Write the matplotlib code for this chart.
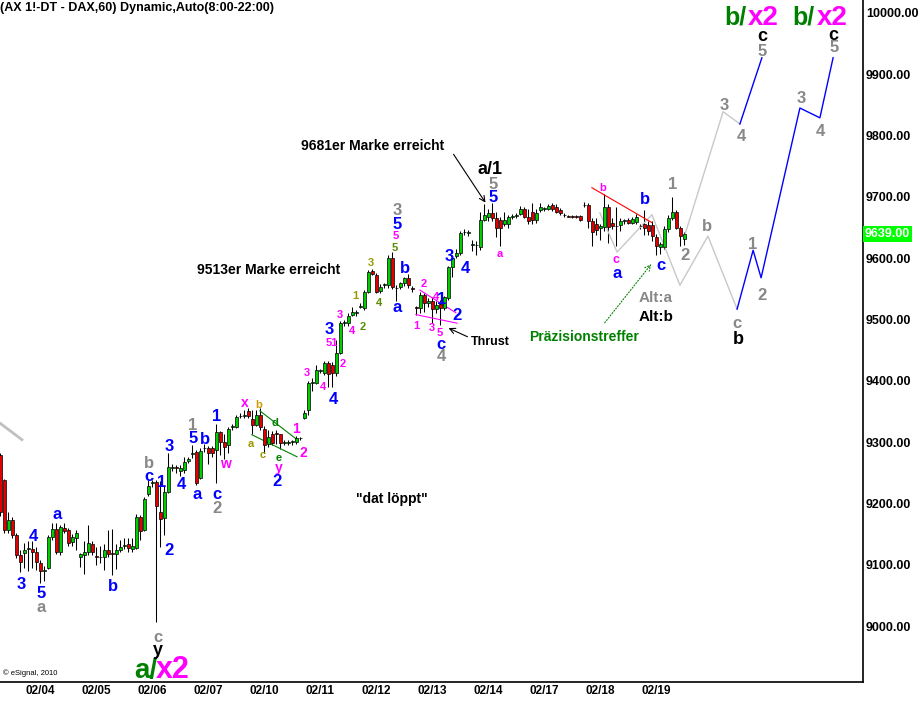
import numpy as np
import matplotlib
matplotlib.use('Agg')
import matplotlib.pyplot as plt

plt.rcParams['font.family'] = ['Liberation Sans', 'DejaVu Sans']
plt.rcParams['font.weight'] = 'bold'

# hourly candles, 02/03 (partial) .. 02/19
opens = [9279, 9238, 9157, 9173, 9149, 9116, 9119, 9126, 9126, 9121,
         9103, 9090, 9095, 9145, 9159, 9121, 9160, 9157, 9137, 9144,
         9113, 9116, 9121, 9134, 9114, 9112, 9112, 9124, 9119, 9118,
         9124, 9131, 9134, 9126, 9127, 9178, 9157, 9216, 9233, 9235,
         9186, 9177, 9219, 9258, 9259, 9253, 9254, 9269, 9281, 9284,
         9242, 9290, 9291, 9290, 9287, 9316, 9300, 9295, 9324, 9324,
         9342, 9342, 9350, 9338, 9328, 9345, 9321, 9297, 9313, 9314,
         9313, 9299, 9299, 9300, 9300, 9306, 9340, 9353, 9397, 9397,
         9416, 9413, 9429, 9425, 9412, 9446, 9494, 9494, 9507, 9511,
         9521, 9519, 9545, 9579, 9573, 9546, 9556, 9556, 9600, 9552,
         9553, 9559, 9568, 9551, 9520, 9519, 9540, 9527, 9530, 9517,
         9525, 9519, 9535, 9585, 9604, 9608, 9642, 9641, 9622, 9622,
         9618, 9663, 9667, 9673, 9665, 9662, 9655, 9655, 9667, 9669,
         9672, 9680, 9668, 9675, 9662, 9678, 9680, 9681, 9686, 9683,
         9679, 9671, 9669, 9668, 9668, 9669, 9686, 9686, 9660, 9655,
         9649, 9651, 9684, 9657, 9652, 9654, 9660, 9662, 9658, 9659,
         9652, 9655, 9654, 9654, 9634, 9619, 9619, 9648, 9666, 9676,
         9650, 9632]
highs = [9282, 9240, 9186, 9178, 9152, 9124, 9136, 9139, 9139, 9129,
         9108, 9098, 9149, 9168, 9168, 9165, 9168, 9160, 9150, 9157,
         9119, 9139, 9165, 9139, 9129, 9131, 9134, 9157, 9159, 9134,
         9141, 9144, 9144, 9144, 9183, 9181, 9211, 9239, 9239, 9239,
         9236, 9230, 9282, 9265, 9263, 9262, 9275, 9276, 9295, 9287,
         9290, 9297, 9293, 9293, 9330, 9318, 9313, 9325, 9329, 9345,
         9347, 9352, 9355, 9352, 9352, 9355, 9326, 9320, 9318, 9320,
         9313, 9303, 9303, 9304, 9310, 9309, 9352, 9400, 9404, 9425,
         9420, 9432, 9433, 9430, 9466, 9498, 9500, 9510, 9520, 9515,
         9527, 9548, 9580, 9582, 9576, 9558, 9560, 9605, 9610, 9556,
         9562, 9570, 9575, 9555, 9522, 9545, 9543, 9535, 9537, 9530,
         9532, 9538, 9588, 9605, 9615, 9645, 9647, 9646, 9630, 9628,
         9675, 9688, 9680, 9690, 9675, 9668, 9675, 9670, 9672, 9674,
         9685, 9683, 9680, 9690, 9680, 9690, 9684, 9688, 9690, 9688,
         9682, 9674, 9671, 9670, 9670, 9671, 9691, 9690, 9665, 9665,
         9655, 9705, 9688, 9665, 9683, 9665, 9664, 9665, 9668, 9672,
         9656, 9678, 9660, 9660, 9640, 9626, 9653, 9670, 9700, 9678,
         9652, 9642]
lows = [9180, 9152, 9152, 9144, 9111, 9088, 9095, 9090, 9095, 9092,
        9070, 9074, 9093, 9141, 9118, 9116, 9152, 9131, 9131, 9124,
        9096, 9085, 9116, 9116, 9100, 9103, 9092, 9113, 9083, 9093,
        9121, 9126, 9121, 9121, 9126, 9141, 9155, 9212, 9226, 9006,
        9129, 9149, 9217, 9253, 9250, 9245, 9250, 9266, 9274, 9230,
        9240, 9284, 9265, 9275, 9233, 9279, 9272, 9282, 9320, 9323,
        9340, 9340, 9339, 9313, 9326, 9320, 9282, 9292, 9295, 9297,
        9288, 9295, 9296, 9296, 9297, 9303, 9337, 9345, 9383, 9395,
        9412, 9410, 9390, 9390, 9408, 9444, 9490, 9490, 9505, 9506,
        9518, 9516, 9543, 9572, 9543, 9543, 9552, 9552, 9550, 9530,
        9550, 9555, 9552, 9545, 9508, 9510, 9512, 9520, 9495, 9510,
        9491, 9516, 9532, 9570, 9600, 9605, 9638, 9636, 9612, 9605,
        9614, 9660, 9660, 9660, 9635, 9620, 9652, 9650, 9664, 9666,
        9670, 9665, 9656, 9656, 9658, 9675, 9677, 9679, 9677, 9673,
        9671, 9668, 9667, 9666, 9666, 9661, 9684, 9650, 9620, 9638,
        9630, 9645, 9625, 9648, 9620, 9645, 9656, 9655, 9655, 9656,
        9648, 9638, 9638, 9628, 9605, 9607, 9615, 9643, 9662, 9648,
        9620, 9622]
closes = [9186, 9157, 9173, 9149, 9116, 9105, 9124, 9128, 9121, 9105,
          9090, 9092, 9145, 9159, 9121, 9162, 9155, 9136, 9145, 9152,
          9117, 9121, 9136, 9121, 9113, 9113, 9124, 9118, 9118, 9124,
          9129, 9132, 9127, 9131, 9178, 9155, 9207, 9229, 9234, 9196,
          9174, 9219, 9259, 9260, 9258, 9258, 9267, 9272, 9283, 9234,
          9286, 9291, 9282, 9282, 9316, 9300, 9292, 9321, 9326, 9341,
          9343, 9345, 9342, 9328, 9345, 9325, 9295, 9308, 9298, 9313,
          9298, 9300, 9300, 9301, 9306, 9307, 9348, 9397, 9398, 9418,
          9417, 9429, 9411, 9412, 9445, 9494, 9496, 9506, 9512, 9512,
          9522, 9545, 9578, 9575, 9545, 9553, 9557, 9600, 9553, 9551,
          9559, 9568, 9556, 9550, 9519, 9540, 9527, 9530, 9517, 9524,
          9518, 9536, 9585, 9600, 9608, 9641, 9643, 9642, 9623, 9621,
          9663, 9670, 9673, 9665, 9650, 9650, 9662, 9667, 9669, 9671,
          9680, 9668, 9660, 9662, 9673, 9683, 9681, 9685, 9680, 9676,
          9673, 9670, 9668, 9667, 9667, 9663, 9687, 9660, 9643, 9646,
          9652, 9684, 9651, 9653, 9653, 9660, 9662, 9658, 9664, 9667,
          9653, 9650, 9644, 9636, 9620, 9623, 9648, 9666, 9676, 9650,
          9636, 9639]

day_labels = ['02/04', '02/05', '02/06', '02/07', '02/10', '02/11',
              '02/12', '02/13', '02/14', '02/17', '02/18', '02/19']
day_start = [10, 24, 38, 52, 66, 80, 94, 108, 122, 136, 150, 164]
price_ticks = [9000, 9100, 9200, 9300, 9400, 9500, 9600, 9700, 9800, 9900, 10000]
last_price = 9639

# projected paths (bar index, price)
gray_path1_x = [149.9, 154.2, 162.9, 169.9, 176.9, 184.2]
gray_path1_y = [9674, 9610, 9671, 9556, 9636, 9517]
blue_path1_x = [184.2, 188.2, 190.2, 199.9, 204.9, 208.2]
blue_path1_y = [9517, 9613, 9568, 9845, 9829, 9927]
gray_path2_x = [170.9, 180.7, 184.9]
gray_path2_y = [9633, 9839, 9819]
blue_path2_x = [184.9, 190.4]
blue_path2_y = [9819, 9927]
old_gray_x = [-0.1, 5.4]
old_gray_y = [9331, 9304]
# trend lines
tri_up_x, tri_up_y = [64.9, 74.2], [9351, 9304]
tri_lo_x, tri_lo_y = [62.9, 74.2], [9312, 9276]
mag_up_x, mag_up_y = [104.9, 113.9], [9548, 9511]
mag_lo_x, mag_lo_y = [103.9, 114.2], [9508, 9494]
red_x, red_y = [147.9, 162.9], [9715, 9658]

BLUE = '#0000ff'
GRAY = '#888888'
MAG = '#ff00ff'
OLIVE = '#999900'
OLIVE2 = '#5a8c00'
GREEN = '#008000'
BLACK = 'black'


def at(x, y):
    # reference pixel -> (bar, price)
    return (x - 0.3) / 4.0, 9500 - (y - 319.6) / 0.6132


fig = plt.figure(figsize=(9.2, 7.02), dpi=100)
ax = fig.add_axes([0, 20 / 702, 863 / 920, 682 / 702])
ax.set_xlim(-0.075, 215.675)
ax.set_ylim(8908.7, 10021.2)

o = np.array(opens, float)
h = np.array(highs, float)
l = np.array(lows, float)
c = np.array(closes, float)
x = np.arange(len(o))
ax.vlines(x, l, h, color='black', lw=0.75, zorder=2)
cols = np.where(c >= o, '#00cc00', '#e00000')
bot = np.minimum(o, c)
hgt = np.maximum(np.abs(c - o), 1.2)
ax.bar(x, hgt, bottom=bot, width=0.8, color=cols, edgecolor='black',
       linewidth=0.5, zorder=3)

ax.plot(gray_path1_x, gray_path1_y, color='#c8c8c8', lw=1)
ax.plot(gray_path2_x, gray_path2_y, color='#c8c8c8', lw=1)
ax.plot(blue_path1_x, blue_path1_y, color='#0000ff', lw=1)
ax.plot(blue_path2_x, blue_path2_y, color='#0000ff', lw=1)
ax.plot(old_gray_x, old_gray_y, color='#c0c0c0', lw=2)
ax.plot(tri_up_x, tri_up_y, color=GREEN, lw=0.8)
ax.plot(tri_lo_x, tri_lo_y, color=GREEN, lw=0.8)
ax.plot(mag_up_x, mag_up_y, color=MAG, lw=0.8)
ax.plot(mag_lo_x, mag_lo_y, color=MAG, lw=0.8)
ax.plot(red_x, red_y, color='#ff0000', lw=0.8)

labels = [
    (21, 583, '3', BLUE, 12), (33, 535, '4', BLUE, 12), (41, 592, '5', BLUE, 12),
    (41, 606, 'a', GRAY, 12), (57, 513, 'a', BLUE, 12), (113, 585, 'b', BLUE, 12),
    (149, 462, 'b', GRAY, 12), (149, 475, 'c', BLUE, 12), (162, 481, '1', BLUE, 12),
    (169, 549, '2', BLUE, 12), (158, 636, 'c', GRAY, 12), (158, 649, 'y', BLACK, 13),
    (169, 445, '3', BLUE, 12), (181, 483, '4', BLUE, 12), (193, 424, '1', GRAY, 12),
    (193, 437, '5', BLUE, 12), (205, 438, 'b', BLUE, 12), (197, 493, 'a', BLUE, 12),
    (217, 415, '1', BLUE, 12), (217, 493, 'c', BLUE, 12), (217, 507, '2', GRAY, 12),
    (225, 463, 'w', MAG, 10), (245, 402, 'x', MAG, 10), (259, 404, 'b', '#cc9900', 8),
    (251, 443, 'a', OLIVE, 8), (275, 422, 'd', GREEN, 8), (263, 454, 'c', OLIVE, 8),
    (279, 457, 'e', GREEN, 8), (279, 467, 'y', MAG, 10), (277, 480, '2', BLUE, 12),
    (296, 428, '1', MAG, 10), (303, 452, '2', MAG, 10),
    (307, 372, '3', MAG, 8), (323, 386, '4', MAG, 8), (333, 398, '4', BLUE, 12),
    (329, 328, '3', BLUE, 12), (332, 342, '51', MAG, 8), (343, 363, '2', MAG, 8),
    (340, 314, '3', MAG, 8), (352, 330, '4', MAG, 8), (355, 295, '1', OLIVE, 8),
    (363, 326, '2', OLIVE2, 8), (371, 262, '3', OLIVE, 8), (379, 302, '4', OLIVE2, 8),
    (395, 247, '5', OLIVE2, 8), (396, 235, '5', MAG, 8), (397, 223, '5', BLUE, 12),
    (397, 209, '3', GRAY, 12), (405, 267, 'b', BLUE, 12), (397, 306, 'a', BLUE, 12),
    (424, 283, '2', MAG, 8), (436, 296, '4', MAG, 8), (442, 298, '1', BLUE, 12),
    (457, 314, '2', BLUE, 12), (416, 325, '1', MAG, 8), (432, 327, '3', MAG, 8),
    (440, 332, '5', MAG, 8), (441, 343, 'c', BLUE, 12), (441, 355, '4', GRAY, 12),
    (449, 255, '3', BLUE, 12), (465, 267, '4', BLUE, 12), (493, 183, '5', GRAY, 12),
    (493, 196, '5', BLUE, 12), (500, 253, 'a', MAG, 8),
    (603, 187, 'b', MAG, 8), (616, 259, 'c', MAG, 9), (617, 272, 'a', BLUE, 12),
    (645, 198, 'b', BLUE, 12), (661, 264, 'c', BLUE, 12), (673, 183, '1', GRAY, 12),
    (685, 254, '2', GRAY, 12), (707, 225, 'b', GRAY, 12), (737, 322, 'c', GRAY, 12),
    (738, 338, 'b', BLACK, 13), (753, 243, '1', GRAY, 12), (762, 294, '2', GRAY, 12),
    (724, 104, '3', GRAY, 12), (741, 135, '4', GRAY, 12), (801, 97, '3', GRAY, 12),
    (820, 130, '4', GRAY, 12), (762, 50, '5', GRAY, 12), (834, 46, '5', GRAY, 12),
    (762, 35, 'c', BLACK, 13), (833, 34, 'c', BLACK, 13),
]
for px, py, s, col, fs in labels:
    ax.text(*at(px, py), s, color=col, fontsize=fs, ha='center',
            va='center_baseline', zorder=5)

# big degree labels
for xr, xl, yb, a_txt, fs in [(157, 156, 678, 'a/', 20), (747, 748, 25, 'b/', 18),
                              (815, 817, 25, 'b/', 18)]:
    ax.text(*at(xr, yb), a_txt, color=GREEN, fontsize=fs, ha='right', va='baseline')
    ax.text(*at(xl, yb), 'x2', color=MAG, fontsize=fs + 2, ha='left', va='baseline')

ax.text(*at(490, 168), 'a/1', color=BLACK, fontsize=13, ha='center', va='center_baseline')
ax.text(*at(373, 145), '9681er Marke erreicht', fontsize=10, ha='center', va='center_baseline')
ax.text(*at(269, 269), '9513er Marke erreicht', fontsize=10, ha='center', va='center_baseline')
ax.text(*at(471, 341), 'Thrust', fontsize=9, ha='left', va='center_baseline')
ax.text(*at(392, 498), '"dat löppt"', fontsize=10, ha='center', va='center_baseline')
ax.text(*at(584, 336), 'Präzisionstreffer', color=GREEN, fontsize=10, ha='center',
        va='center_baseline')
ax.text(*at(656, 297), 'Alt:a', color=GRAY, fontsize=11, ha='center', va='center_baseline')
ax.text(*at(656, 316), 'Alt:b', color=BLACK, fontsize=11, ha='center', va='center_baseline')

ax.annotate('', xy=at(487, 205), xytext=at(452, 152),
            arrowprops=dict(arrowstyle='->', color='black', lw=0.8))
ax.annotate('', xy=at(446, 327), xytext=at(470, 338),
            arrowprops=dict(arrowstyle='->', color='black', lw=0.8))
ax.annotate('', xy=at(653, 262), xytext=at(603, 325),
            arrowprops=dict(arrowstyle='->', color=GREEN, lw=0.8, linestyle=':'))

ax.text(0.003, 0.008, '© eSignal, 2010', transform=ax.transAxes, fontsize=5.5,
        fontweight='normal', ha='left', va='bottom')
fig.text(0.0, 1 - 8 / 702, '(AX 1!-DT - DAX,60) Dynamic,Auto(8:00-22:00)',
         fontsize=9, ha='left', va='center')

# axes
for s in ['top', 'left']:
    ax.spines[s].set_visible(False)
ax.spines['right'].set_linewidth(1.2)
ax.spines['bottom'].set_linewidth(1.2)
ax.yaxis.tick_right()
ax.set_yticks(price_ticks)
ax.set_yticklabels(['%.2f' % v for v in price_ticks], fontsize=9, fontweight='bold')
ax.tick_params(axis='y', length=0, pad=2)
ax.set_xticks(day_start)
ax.set_xticklabels(day_labels, fontsize=8.5, fontweight='bold')
ax.tick_params(axis='x', length=0, pad=2)

ax.text(1.0 + 2 / 863, last_price, '%.2f' % last_price, transform=ax.get_yaxis_transform(),
        color='white', fontsize=9, ha='left', va='center',
        bbox=dict(boxstyle='square,pad=0.15', facecolor='#00ff00', edgecolor='none'))

fig.savefig('out.png', dpi=100)
